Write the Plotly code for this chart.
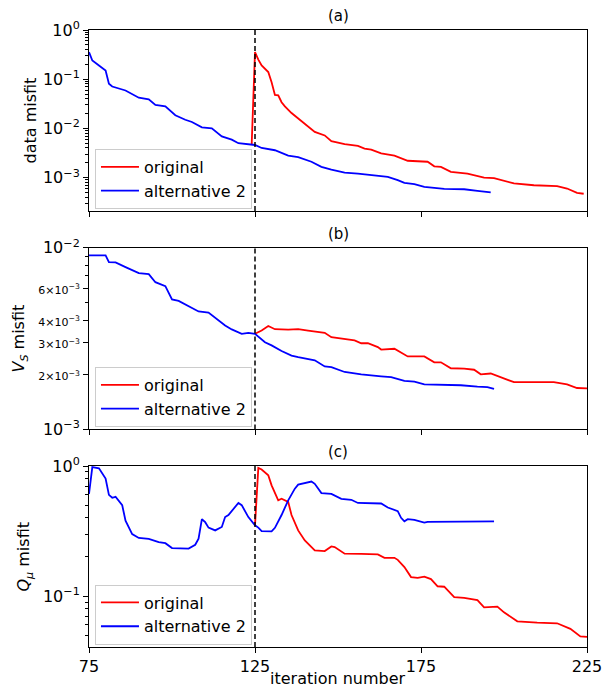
import math
import plotly.graph_objects as go
from plotly.subplots import make_subplots

# ---- data: (a) data misfit ----
a_orig_it = [124, 125, 126, 127, 129, 130, 131, 132, 133, 134, 136, 138, 141, 143, 146, 148, 152, 156, 158,
             160, 163, 167, 171, 177, 179, 181, 184, 189, 194, 197, 203, 209, 216, 219, 222, 224]
a_orig = [0.0047, 0.355, 0.25, 0.19, 0.14, 0.087, 0.048, 0.047, 0.034, 0.028, 0.0205, 0.016, 0.011, 0.0085,
          0.0072, 0.0055, 0.0048, 0.0044, 0.0039, 0.0037, 0.0031, 0.0028, 0.0022, 0.0021, 0.0017, 0.00165,
          0.00131, 0.0012, 0.001, 0.00098, 0.00076, 0.0007, 0.00067, 0.0006, 0.00049, 0.00047]
a_alt_it = [75, 76, 78, 80, 81, 82, 86, 88, 90, 93, 95, 98, 101, 104, 106, 109, 112, 115, 118, 120, 123, 125,
            127, 131, 135, 138, 142, 145, 148, 152, 156, 160, 165, 168, 170, 173, 176, 182, 188, 192, 196]
a_alt = [0.355, 0.24, 0.19, 0.15, 0.081, 0.071, 0.059, 0.049, 0.042, 0.039, 0.030, 0.028, 0.0185, 0.015,
         0.0135, 0.0105, 0.010, 0.0069, 0.0059, 0.0050, 0.0048, 0.0046, 0.0040, 0.0036, 0.0028, 0.0026,
         0.0021, 0.00165, 0.00145, 0.00126, 0.0012, 0.00112, 0.00103, 0.00089, 0.00078, 0.00074, 0.00065,
         0.00059, 0.00058, 0.00054, 0.0005]

# ---- data: (b) Vs misfit ----
b_orig_it = [125, 127, 129, 131, 135, 138, 141, 144, 146, 148, 151, 155, 157, 159, 162, 163, 167, 171, 176,
             179, 181, 184, 188, 191, 193, 196, 203, 209, 215, 219, 222, 225]
b_orig = [0.00336, 0.0035, 0.00371, 0.00356, 0.00354, 0.00356, 0.0035, 0.00343, 0.0034, 0.00322, 0.00317,
          0.00309, 0.00298, 0.00298, 0.00284, 0.00275, 0.00278, 0.00252, 0.00252, 0.00234, 0.00234, 0.00217,
          0.00216, 0.00213, 0.00201, 0.00203, 0.00182, 0.00182, 0.00182, 0.00177, 0.00169, 0.00168]
b_alt_it = [75, 80, 81, 83, 86, 90, 93, 95, 98, 100, 102, 105, 108, 111, 113, 116, 118, 121, 123, 125, 128,
            130, 133, 136, 138, 143, 146, 148, 152, 157, 163, 166, 170, 173, 176, 181, 187, 192, 195, 197]
b_alt = [0.00907, 0.00907, 0.00834, 0.0083, 0.00782, 0.00725, 0.00715, 0.00646, 0.00615, 0.00519, 0.0051,
         0.00475, 0.00446, 0.0044, 0.0041, 0.00373, 0.00355, 0.00336, 0.0034, 0.00336, 0.00302, 0.0029,
         0.0027, 0.00255, 0.0025, 0.0024, 0.00222, 0.0022, 0.00207, 0.00201, 0.00196, 0.00194, 0.00185,
         0.00183, 0.00177, 0.00176, 0.00175, 0.00172, 0.00171, 0.00167]

# ---- data: (c) Q_mu misfit ----
c_orig_it = [125, 126, 127, 129, 130, 132, 133, 135, 136, 138, 140, 142, 143, 146, 148, 149, 152, 157, 162,
             164, 167, 168, 170, 172, 174, 176, 178, 180, 182, 185, 188, 192, 194, 198, 200, 204, 210, 216,
             220, 223, 225]
c_orig = [0.35, 0.966, 0.94, 0.85, 0.71, 0.545, 0.56, 0.53, 0.42, 0.32, 0.268, 0.241, 0.225, 0.222, 0.241,
          0.238, 0.212, 0.211, 0.209, 0.197, 0.197, 0.19, 0.167, 0.14, 0.138, 0.141, 0.135, 0.119, 0.118,
          0.098, 0.097, 0.093, 0.082, 0.083, 0.075, 0.064, 0.0624, 0.0618, 0.056, 0.049, 0.0485]
c_alt_it = [75, 76, 78, 80, 81, 82, 83, 85, 86, 88, 90, 93, 96, 98, 100, 103, 105, 107, 108, 109, 110, 111,
            113, 115, 116, 117, 120, 121, 123, 125, 126, 127, 130, 131, 133, 135, 137, 138, 142, 143, 145,
            148, 151, 154, 156, 163, 165, 168, 169, 170, 171, 173, 176, 177, 184, 191, 197]
c_alt = [0.61, 0.98, 0.96, 0.80, 0.60, 0.57, 0.58, 0.50, 0.38, 0.30, 0.28, 0.275, 0.26, 0.255, 0.234, 0.232,
         0.232, 0.248, 0.276, 0.39, 0.37, 0.336, 0.32, 0.34, 0.405, 0.42, 0.52, 0.50, 0.405, 0.35, 0.336,
         0.316, 0.315, 0.335, 0.42, 0.545, 0.67, 0.72, 0.76, 0.73, 0.62, 0.61, 0.56, 0.55, 0.52, 0.515, 0.48,
         0.45, 0.40, 0.376, 0.39, 0.385, 0.367, 0.372, 0.374, 0.377, 0.376]

restart_iter = 125
x_ticks = [75, 125, 175, 225]
panel_titles = ["(a)", "(b)", "(c)"]
series_names = ["original", "alternative 2"]

FONT = "DejaVu Sans"
RED, BLUE = "#ff0000", "#0000ff"

fig = make_subplots(rows=3, cols=1, shared_xaxes=False, vertical_spacing=0.06)

panels = [
    (a_orig_it, a_orig, a_alt_it, a_alt),
    (b_orig_it, b_orig, b_alt_it, b_alt),
    (c_orig_it, c_orig, c_alt_it, c_alt),
]
legend_ids = ["legend", "legend2", "legend3"]
for i, (ox, oy, bx, by) in enumerate(panels):
    row = i + 1
    fig.add_trace(go.Scatter(x=ox, y=oy, mode="lines", name=series_names[0],
                             line=dict(color=RED, width=1.8), legend=legend_ids[i]), row=row, col=1)
    fig.add_trace(go.Scatter(x=bx, y=by, mode="lines", name=series_names[1],
                             line=dict(color=BLUE, width=1.8), legend=legend_ids[i]), row=row, col=1)

# layout geometry (plot area = 617 px tall)
H, W = 689, 609
mt, mb, ml, mr = 30, 42, 89, 22
domains = [[0.7067, 1.0], [0.3527, 0.6471], [0.0, 0.2933]]


def sup(e):
    return "10<sup>" + ("\u2212" + str(-e) if e < 0 else str(e)) + "</sup>"


def minors(lo_exp, hi_exp, lo, hi):
    vals = []
    for e in range(lo_exp, hi_exp + 1):
        for m in range(2, 10):
            v = m * 10 ** e
            if lo <= v <= hi:
                vals.append(v)
    return vals


axis_common = dict(showline=True, linecolor="black", linewidth=1, mirror=True,
                   ticks="outside", ticklen=5, tickwidth=1, tickcolor="black",
                   showgrid=False, zeroline=False, automargin=False,
                   tickfont=dict(family=FONT, size=16, color="black"))

y_ranges = [(2.1e-4, 1.0), (1e-3, 1e-2), (0.0406, 1.0)]

# y axes
ya_major = [1, 0.1, 0.01, 0.001]
fig.update_yaxes(type="log", range=[math.log10(y_ranges[0][0]), 0], domain=domains[0],
                 tickvals=ya_major, ticktext=[sup(0), sup(-1), sup(-2), sup(-3)],
                 minor=dict(tickvals=minors(-4, -1, *y_ranges[0]), ticks="outside", ticklen=3,
                            tickcolor="black", showgrid=False),
                 row=1, col=1, **axis_common)

small = lambda m: ('<span style="font-size:11px">%d\u00d710<sup>\u22123</sup></span>' % m)
yb_vals = [1e-2, 1e-3, 2e-3, 3e-3, 4e-3, 6e-3]
yb_text = [sup(-2), sup(-3), small(2), small(3), small(4), small(6)]
fig.update_yaxes(type="log", range=[-3, -2], domain=domains[1],
                 tickvals=yb_vals, ticktext=yb_text,
                 minor=dict(tickvals=[5e-3, 7e-3, 8e-3, 9e-3], ticks="outside", ticklen=3,
                            tickcolor="black", showgrid=False),
                 row=2, col=1, **axis_common)

fig.update_yaxes(type="log", range=[math.log10(y_ranges[2][0]), 0], domain=domains[2],
                 tickvals=[1, 0.1], ticktext=[sup(0), sup(-1)],
                 minor=dict(tickvals=minors(-2, -1, *y_ranges[2]), ticks="outside", ticklen=3,
                            tickcolor="black", showgrid=False),
                 row=3, col=1, **axis_common)

# x axes
for r in (1, 2, 3):
    fig.update_xaxes(range=[75, 225], tickvals=x_ticks, showticklabels=(r == 3),
                     row=r, col=1, **axis_common)

# restart marker
for r in (1, 2, 3):
    yref = ("y" if r == 1 else "y%d" % r) + " domain"
    xref = "x" if r == 1 else "x%d" % r
    fig.add_shape(type="line", x0=restart_iter, x1=restart_iter, y0=0, y1=1, xref=xref, yref=yref,
                  line=dict(color="black", width=1.5, dash="5px,3px"))

# panel titles
for i, t in enumerate(panel_titles):
    fig.add_annotation(text=t, x=0.5, y=domains[i][1], xref="paper", yref="paper",
                       xanchor="center", yanchor="bottom", yshift=3, showarrow=False,
                       font=dict(family=FONT, size=15, color="black"))

# y-axis labels
ylabels = ["data misfit", "<i>V</i><sub><i>S</i></sub> misfit", "<i>Q</i><sub><i>\u03bc</i></sub> misfit"]
ylabel_px = [30, 20, 25]
for i, (lab, px) in enumerate(zip(ylabels, ylabel_px)):
    fig.add_annotation(text=lab, x=(px - ml) / (W - ml - mr), y=sum(domains[i]) / 2,
                       xref="paper", yref="paper", xanchor="center", yanchor="middle",
                       textangle=-90, showarrow=False,
                       font=dict(family=FONT, size=16, color="black"))

# x-axis label
fig.add_annotation(text="iteration number", x=0.5, y=0, xref="paper", yref="paper",
                   xanchor="center", yanchor="middle", yshift=-31, showarrow=False,
                   font=dict(family=FONT, size=16, color="black"))

legend_bottoms = [0.7099, 0.3566, 0.004]
legend_style = dict(x=0.012, xanchor="left", yanchor="bottom",
                    bgcolor="rgba(255,255,255,0.8)", bordercolor="#cccccc", borderwidth=1,
                    font=dict(family=FONT, size=16, color="black"), tracegroupgap=0,
                    itemwidth=38)
fig.update_layout(
    width=W, height=H,
    margin=dict(l=ml, r=mr, t=mt, b=mb, autoexpand=False),
    paper_bgcolor="white", plot_bgcolor="white",
    font=dict(family=FONT, color="black"),
    legend=dict(y=legend_bottoms[0], **legend_style),
    legend2=dict(y=legend_bottoms[1], **legend_style),
    legend3=dict(y=legend_bottoms[2], **legend_style),
)

fig.write_html("out.html")
